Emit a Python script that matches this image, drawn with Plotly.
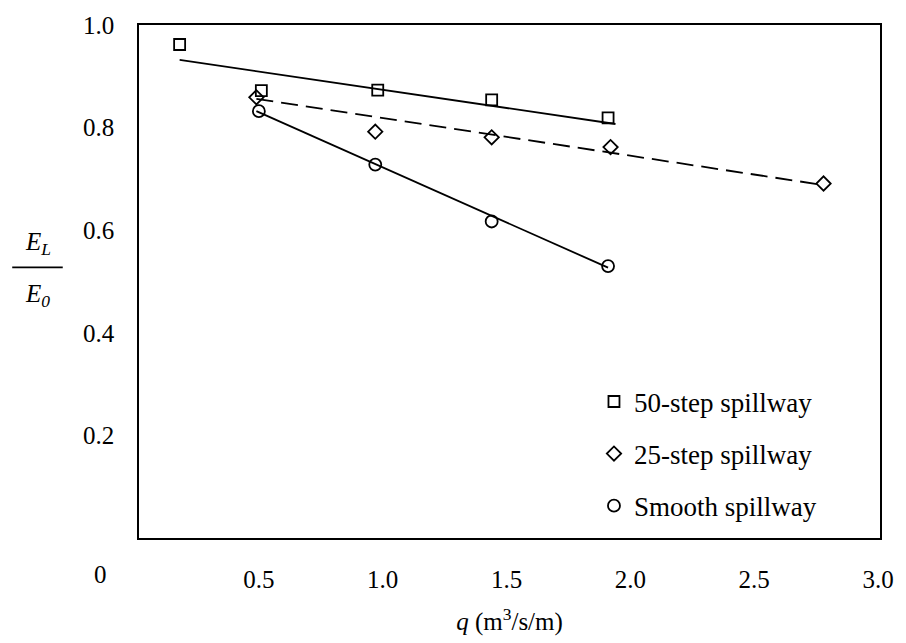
import plotly.graph_objects as go

# ---- data ----
q_50 = [0.18, 0.51, 0.98, 1.44, 1.91]
e_50 = [0.962, 0.872, 0.873, 0.854, 0.819]
q_25 = [0.49, 0.97, 1.44, 1.92, 2.78]
e_25 = [0.859, 0.792, 0.781, 0.762, 0.691]
q_sm = [0.50, 0.97, 1.44, 1.91]
e_sm = [0.832, 0.728, 0.617, 0.530]

# trend lines (end points)
fit_50_q = [0.18, 1.94]
fit_50_e = [0.932, 0.807]
fit_25_q = [0.49, 2.78]
fit_25_e = [0.856, 0.688]
fit_sm_q = [0.49, 1.91]
fit_sm_e = [0.832, 0.527]

series_names = ["50-step spillway", "25-step spillway", "Smooth spillway"]
x_tickvals = [0.5, 1.0, 1.5, 2.0, 2.5, 3.0]
x_ticktext = ["0.5", "1.0", "1.5", "2.0", "2.5", "3.0"]
y_tickvals = [0.2, 0.4, 0.6, 0.8, 1.0]
y_ticktext = ["0.2", "0.4", "0.6", "0.8", "1.0"]

FONT = "Times New Roman, Liberation Serif, DejaVu Serif, serif"
BLACK = "#000000"

fig = go.Figure()

# trend lines
fig.add_trace(go.Scatter(x=fit_50_q, y=fit_50_e, mode="lines",
                         line=dict(color=BLACK, width=1.8), showlegend=False, hoverinfo="skip"))
fig.add_trace(go.Scatter(x=fit_25_q, y=fit_25_e, mode="lines",
                         line=dict(color=BLACK, width=1.8, dash="17px,8px"), showlegend=False, hoverinfo="skip"))
fig.add_trace(go.Scatter(x=fit_sm_q, y=fit_sm_e, mode="lines",
                         line=dict(color=BLACK, width=1.8), showlegend=False, hoverinfo="skip"))

# data markers
fig.add_trace(go.Scatter(x=q_50, y=e_50, mode="markers", name=series_names[0], legendgroup="a",
                         marker=dict(symbol="square-open", size=11, color=BLACK, line=dict(width=1.8, color=BLACK))))
fig.add_trace(go.Scatter(x=q_25, y=e_25, mode="markers", name=series_names[1], legendgroup="b",
                         marker=dict(symbol="diamond-open", size=11, color=BLACK, line=dict(width=1.8, color=BLACK))))
fig.add_trace(go.Scatter(x=q_sm, y=e_sm, mode="markers", name=series_names[2], legendgroup="c",
                         marker=dict(symbol="circle-open", size=12, color=BLACK, line=dict(width=1.8, color=BLACK))))

fig.update_layout(
    width=906, height=643,
    margin=dict(l=139, r=19, t=21, b=97),
    paper_bgcolor="white", plot_bgcolor="white",
    font=dict(family=FONT, size=25, color=BLACK),
    showlegend=True,
    legend=dict(x=0.614, y=0.313, xanchor="left", yanchor="top",
                bgcolor="rgba(0,0,0,0)", borderwidth=0,
                font=dict(family=FONT, size=27, color=BLACK),
                tracegroupgap=14),
    xaxis=dict(range=[0.016, 3.008], tickvals=x_tickvals, ticktext=x_ticktext,
               showgrid=False, zeroline=False, showline=True, mirror=True,
               linecolor=BLACK, linewidth=1.6, ticks="", ticklabelstandoff=18,
               tickfont=dict(family=FONT, size=25, color=BLACK),
               title=dict(text="<i>q</i> (m<sup>3</sup>/s/m)", standoff=21,
                          font=dict(family=FONT, size=25, color=BLACK))),
    yaxis=dict(range=[0, 1.0], tickvals=y_tickvals, ticktext=y_ticktext,
               showgrid=False, zeroline=False, showline=True, mirror=True,
               linecolor=BLACK, linewidth=1.6, ticks="", ticklabelstandoff=18,
               tickfont=dict(family=FONT, size=25, color=BLACK)),
)

# origin label and the E_L / E_0 axis title
fig.add_annotation(text="0", xref="paper", yref="paper", x=-0.052, y=-0.071,
                   showarrow=False, xanchor="center", yanchor="middle",
                   font=dict(family=FONT, size=25, color=BLACK))
fig.add_annotation(text="<i>E<sub>L</sub></i>", xref="paper", yref="paper", x=-0.1364, y=0.5733,
                   showarrow=False, xanchor="center", yanchor="middle",
                   font=dict(family=FONT, size=25, color=BLACK))
fig.add_annotation(text="<i>E<sub>0</sub></i>", xref="paper", yref="paper", x=-0.1364, y=0.4724,
                   showarrow=False, xanchor="center", yanchor="middle",
                   font=dict(family=FONT, size=25, color=BLACK))
fig.add_shape(type="line", xref="paper", yref="paper", x0=-0.1711, x1=-0.1029, y0=0.5276, y1=0.5276,
              line=dict(color=BLACK, width=1.8))

fig.write_html("out.html")
